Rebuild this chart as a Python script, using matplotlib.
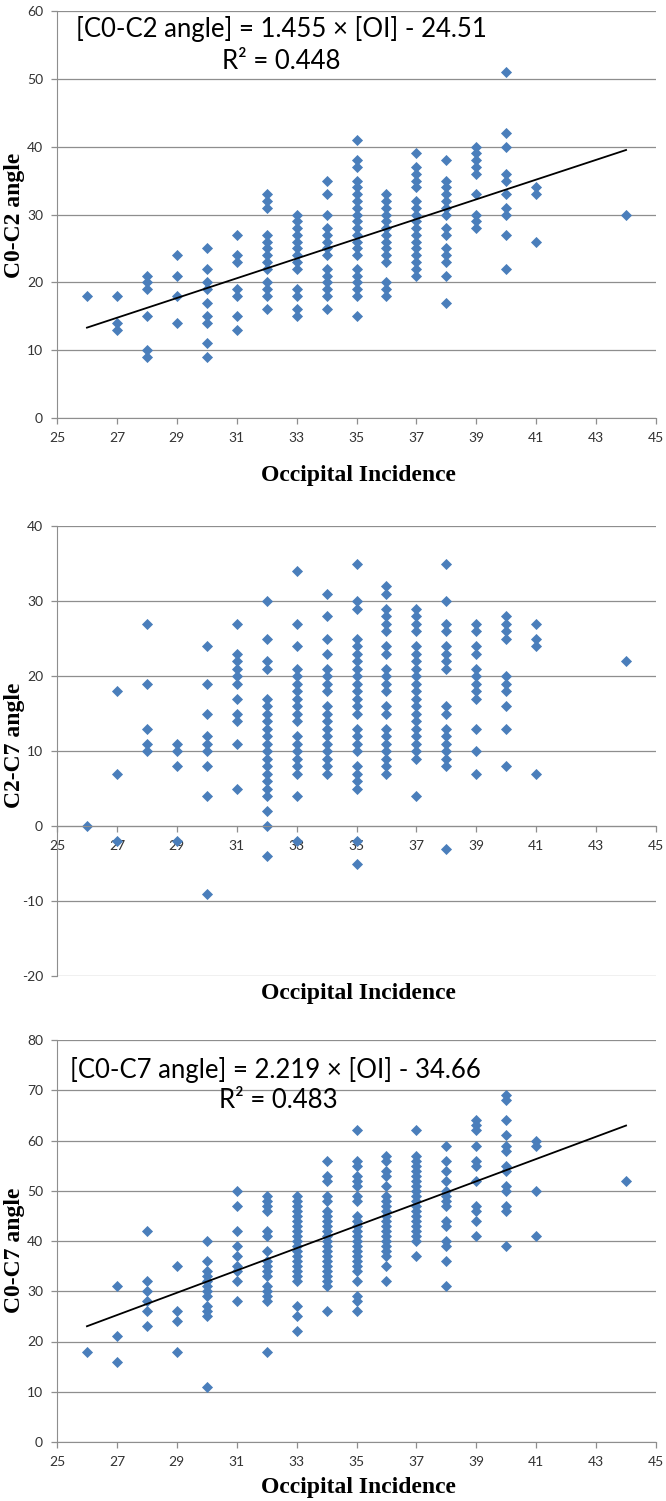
import numpy as np
import matplotlib.pyplot as plt

# occipital incidence levels that carry points (same for all three panels)
oi_levels = [26, 27, 28, 29, 30, 31, 32, 33, 34, 35, 36, 37, 38, 39, 40, 41, 44]

# C0-C2 angle, one list per OI level
c0c2_angles = [
    [18],
    [18, 14, 13],
    [21, 20, 19, 15, 10, 9],
    [24, 21, 18, 14],
    [25, 22, 20, 19, 17, 15, 14, 11, 9],
    [27, 24, 23, 19, 18, 15, 13],
    [33, 32, 31, 27, 26, 25, 24, 23, 22, 20, 19, 18, 16],
    [30, 29, 28, 27, 26, 25, 24, 23, 22, 19, 18, 16, 15],
    [35, 33, 30, 28, 27, 26, 25, 24, 22, 21, 20, 19, 18, 16],
    [41, 38, 37, 35, 34, 33, 32, 31, 30, 29, 28, 27, 26, 25, 24, 22, 21, 20, 19, 18, 15],
    [33, 32, 31, 30, 29, 28, 27, 26, 25, 24, 23, 20, 19, 18],
    [39, 37, 36, 35, 34, 32, 31, 30, 29, 28, 27, 26, 25, 24, 23, 22, 21],
    [38, 35, 34, 33, 32, 31, 30, 28, 27, 25, 24, 23, 21, 17],
    [40, 39, 38, 37, 36, 33, 30, 29, 28],
    [51, 42, 40, 36, 35, 33, 31, 30, 27, 22],
    [34, 33, 26],
    [30],
]

# C2-C7 angle
c2c7_angles = [
    [0],
    [18, 7, -2],
    [27, 19, 13, 11, 10],
    [11, 10, 8, -2],
    [24, 19, 15, 12, 11, 10, 8, 4, -9],
    [27, 23, 22, 21, 20, 19, 17, 15, 14, 11, 5],
    [30, 25, 22, 21, 17, 16, 15, 14, 13, 12, 11, 10, 9, 8, 7, 6, 5, 4, 2, 0, -4],
    [34, 27, 24, 21, 20, 19, 18, 17, 16, 15, 14, 12, 11, 10, 9, 8, 7, 4, -2],
    [31, 28, 25, 23, 21, 20, 19, 18, 16, 15, 14, 13, 12, 11, 10, 9, 8, 7],
    [35, 30, 29, 25, 24, 23, 22, 21, 20, 19, 18, 17, 16, 15, 13, 12, 11, 10, 8, 7, 6, 5, -2, -5],
    [32, 31, 29, 28, 27, 26, 24, 23, 21, 20, 19, 18, 16, 15, 13, 12, 11, 10, 9, 8, 7],
    [29, 28, 27, 26, 24, 23, 22, 21, 20, 19, 18, 17, 16, 15, 14, 13, 12, 11, 10, 9, 4],
    [35, 30, 27, 26, 24, 23, 22, 21, 16, 15, 13, 12, 11, 10, 9, 8, -3],
    [27, 26, 24, 23, 21, 20, 19, 18, 17, 13, 10, 7],
    [28, 27, 26, 25, 20, 19, 18, 16, 13, 8],
    [27, 25, 24, 7],
    [22],
]

# C0-C7 angle
c0c7_angles = [
    [18],
    [31, 21, 16],
    [42, 32, 30, 28, 26, 23],
    [35, 26, 24, 18],
    [40, 36, 34, 33, 32, 31, 30, 29, 27, 26, 25, 11],
    [50, 47, 42, 39, 37, 35, 34, 32, 28],
    [49, 48, 47, 46, 42, 41, 38, 36, 35, 34, 33, 31, 30, 29, 28, 18],
    [49, 48, 47, 46, 45, 44, 43, 42, 41, 40, 39, 38, 37, 36, 35, 34, 33, 32, 27, 25, 22],
    [56, 53, 52, 49, 48, 46, 45, 44, 43, 42, 41, 40, 39, 38, 37, 36, 35, 34, 33, 32, 31, 26],
    [62, 56, 55, 53, 52, 51, 49, 48, 45, 44, 43, 42, 41, 40, 39, 38, 37, 36, 35, 34, 32, 29, 28, 26],
    [57, 56, 54, 53, 51, 49, 48, 47, 46, 45, 44, 43, 42, 41, 40, 39, 38, 37, 35, 32],
    [62, 57, 56, 55, 54, 53, 52, 51, 50, 49, 48, 47, 46, 45, 44, 43, 42, 41, 40, 37],
    [59, 56, 54, 52, 50, 49, 48, 47, 44, 43, 40, 39, 36, 31],
    [64, 63, 62, 59, 56, 55, 52, 47, 46, 44, 41],
    [69, 68, 64, 61, 59, 58, 55, 54, 51, 50, 47, 46, 39],
    [60, 59, 50, 41],
    [52],
]

# regression results printed on the chart
c0c2_fit = (1.455, -24.51, 0.448)
c0c7_fit = (2.219, -34.66, 0.483)

x_ticks = [25, 27, 29, 31, 33, 35, 37, 39, 41, 43, 45]

BLUE = '#4A7EBB'
GRID = '#8e8e8e'
TICK_FONT = 'Lato'
LABEL_FONT = 'Liberation Serif'

plt.rcParams['axes.unicode_minus'] = False

W, H = 666, 1501
fig = plt.figure(figsize=(W / 100, H / 100), dpi=100)


def flatten(levels, columns):
    xs, ys = [], []
    for x, col in zip(levels, columns):
        xs.extend([x] * len(col))
        ys.extend(col)
    return np.array(xs), np.array(ys)


def make_axes(top_px, bottom_px, left_px=57, right_px=656):
    return fig.add_axes([left_px / W, 1 - bottom_px / H,
                         (right_px - left_px) / W, (bottom_px - top_px) / H])


def style_axes(ax, ymin, ymax, ystep, xaxis_at=None):
    ax.set_xlim(25, 45)
    ax.set_ylim(ymin, ymax)
    ax.set_xticks(x_ticks)
    ax.set_yticks(np.arange(ymin, ymax + 1, ystep))
    ax.grid(axis='y', color=GRID, lw=0.9)
    ax.set_axisbelow(True)
    for s in ['top', 'right']:
        ax.spines[s].set_visible(False)
    ax.spines['left'].set_color(GRID)
    ax.spines['bottom'].set_color(GRID)
    if xaxis_at is not None:
        ax.spines['bottom'].set_position(('data', xaxis_at))
    ax.tick_params(axis='both', colors=GRID, length=4, width=0.9,
                   labelcolor='#333333', labelsize=10)
    ax.tick_params(axis='x', pad=6)
    ax.tick_params(axis='y', pad=6)
    for lab in ax.get_xticklabels() + ax.get_yticklabels():
        lab.set_fontfamily(TICK_FONT)


def draw_fit(ax, fit, name, eq_xy, r2_xy):
    slope, icpt, r2 = fit
    xx = np.array([min(oi_levels), max(oi_levels)])
    ax.plot(xx, slope * xx + icpt, color='black', lw=1.3, zorder=3)
    ax.text(eq_xy[0], eq_xy[1], f'[{name}] = {slope:.3f} × [OI] - {abs(icpt):.2f}',
            ha='left', va='center', fontsize=18.5, family=TICK_FONT, color='black')
    ax.text(r2_xy[0], r2_xy[1], f'R² = {r2:.3f}',
            ha='center', va='center', fontsize=18.5, family=TICK_FONT, color='black')


def label_texts(ylab, ylab_y, xlab_y):
    fig.text(358 / W, 1 - xlab_y / H, 'Occipital Incidence', ha='center', va='center',
             fontsize=17, fontweight='bold', family=LABEL_FONT)
    fig.text(15 / W, 1 - ylab_y / H, ylab, ha='center', va='center', rotation=90,
             fontsize=17, fontweight='bold', family=LABEL_FONT)


# C0-C2
ax1 = make_axes(11, 418)
style_axes(ax1, 0, 60, 10)
x1, y1 = flatten(oi_levels, c0c2_angles)
ax1.scatter(x1, y1, marker='D', s=32, color=BLUE, linewidths=0, zorder=2)
draw_fit(ax1, c0c2_fit, 'C0-C2 angle', (25.65, 57.3), (32.5, 52.6))
label_texts('C0-C2 angle', 215, 475)

# C2-C7
ax2 = make_axes(526, 976)
style_axes(ax2, -20, 40, 10, xaxis_at=0)
x2, y2 = flatten(oi_levels, c2c7_angles)
ax2.scatter(x2, y2, marker='D', s=32, color=BLUE, linewidths=0, zorder=2)
label_texts('C2-C7 angle', 745, 993)

# C0-C7
ax3 = make_axes(1040, 1442)
style_axes(ax3, 0, 80, 10)
x3, y3 = flatten(oi_levels, c0c7_angles)
ax3.scatter(x3, y3, marker='D', s=32, color=BLUE, linewidths=0, zorder=2)
draw_fit(ax3, c0c7_fit, 'C0-C7 angle', (25.45, 74), (32.4, 68))
label_texts('C0-C7 angle', 1250, 1487)

fig.savefig('out.png', dpi=100)
